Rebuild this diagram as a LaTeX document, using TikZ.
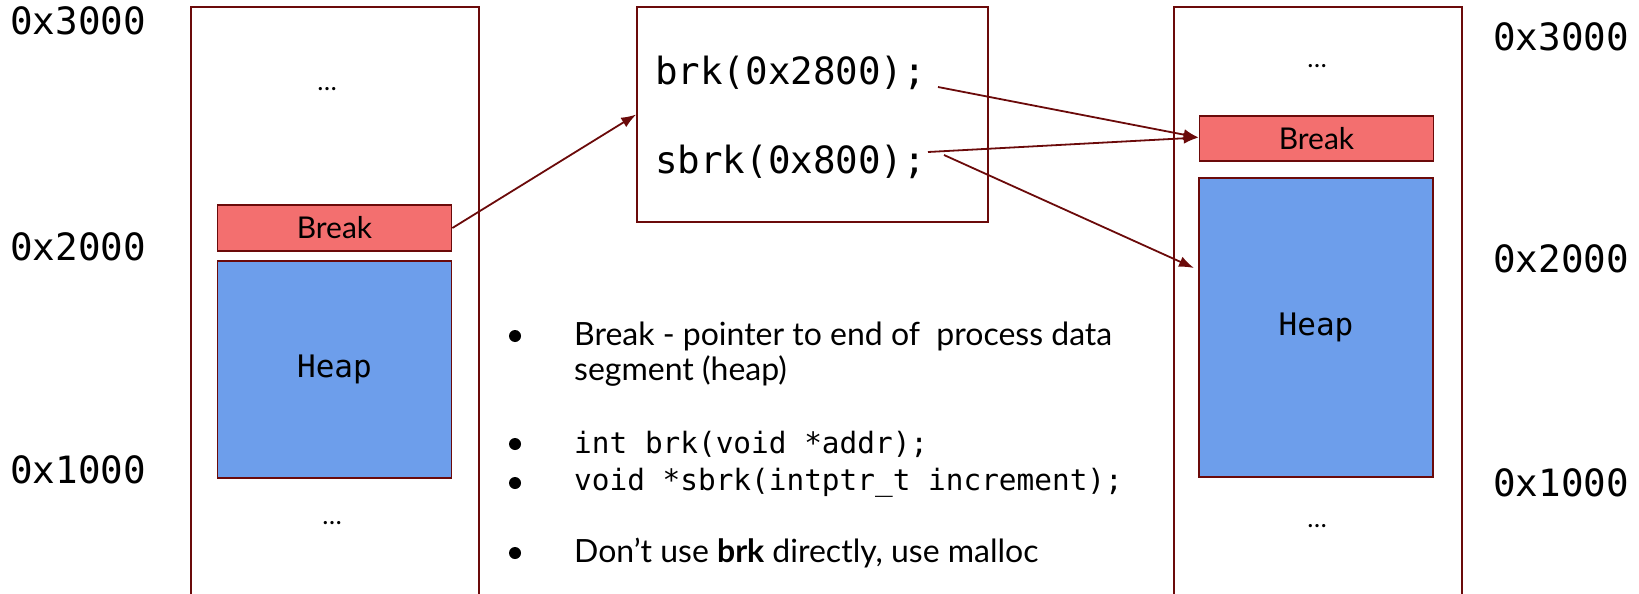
\documentclass[tikz,border=0pt]{standalone}
\usepackage{fontspec}
\setmainfont{Lato}
\setmonofont{DejaVu Sans Mono}
\usetikzlibrary{arrows.meta}
\definecolor{edgered}{HTML}{6B0A0A}
\definecolor{breakred}{HTML}{F36F6F}
\definecolor{heapblue}{HTML}{6D9EEB}
\tikzset{
  membox/.style={draw=edgered, line width=1.6pt, minimum width=288pt, minimum height=640pt, inner sep=0pt},
  brkbox/.style={draw=edgered, fill=breakred, line width=1.8pt, minimum width=234pt, inner sep=0pt, font=\fontsize{30}{36}\selectfont},
  heapbox/.style={draw=edgered, fill=heapblue, line width=1.8pt, minimum width=234pt, inner sep=0pt, font=\ttfamily\fontsize{31}{36}\selectfont},
  codebox/.style={draw=edgered, line width=1.6pt, minimum width=351pt, minimum height=215pt, inner sep=0pt},
  addr/.style={inner sep=0pt, font=\ttfamily\fontsize{37.6}{42}\selectfont},
  call/.style={anchor=west, inner sep=0pt, font=\ttfamily\fontsize{37.5}{42}\selectfont},
  dots/.style={inner sep=0pt, font=\fontsize{26}{30}\selectfont},
  dot/.style={circle, fill=black, minimum size=12pt, inner sep=0pt},
  note/.style={anchor=west, inner sep=0pt, font=\fontsize{32}{38}\selectfont},
  notecode/.style={anchor=west, inner sep=0pt, font=\ttfamily\fontsize{29.4}{34}\selectfont},
  ptr/.style={draw=edgered, line width=1.8pt, -{Latex[length=15pt,width=11pt]}}
}
\begin{document}
\begin{tikzpicture}[x=1pt,y=-1pt]
\useasboundingbox (0,0) rectangle (1639,594);
\clip (0,0) rectangle (1639,594);
% memory before
\node[membox] (memL) at (335,327) {};
\node[dots] (dotsLtop) at (327,89) {…};
\node[brkbox, minimum height=46pt] (brkL) at (334.5,228) {Break};
\node[heapbox, minimum height=217pt] (heapL) at (334.5,369.5) {Heap};
\node[dots] (dotsLbot) at (332,523) {…};
\node[addr, anchor=west] (aL3) at (10,21) {0x3000};
\node[addr, anchor=west] (aL2) at (10,247) {0x2000};
\node[addr, anchor=west] (aL1) at (10,470) {0x1000};
% calls
\node[codebox] (code) at (812.5,114.5) {};
\node[call] (brk) at (655,73) {brk(0x2800);};
\node[call] (sbrk) at (655,162) {sbrk(0x800);};
% memory after
\node[membox] (memR) at (1318,327) {};
\node[dots] (dotsRtop) at (1317,66) {…};
\node[brkbox, minimum height=45pt] (brkR) at (1316.5,138.5) {Break};
\node[heapbox, minimum height=299pt] (heapR) at (1316,327.5) {Heap};
\node[dots] (dotsRbot) at (1317,526) {…};
\node[addr, anchor=west] (aR3) at (1493,37) {0x3000};
\node[addr, anchor=west] (aR2) at (1493,259) {0x2000};
\node[addr, anchor=west] (aR1) at (1493,483) {0x1000};
% pointers
\coordinate (brkend) at (938,87);
\coordinate (sbrkend) at (928,152);
\coordinate (sbrkend2) at (944,155);
\coordinate (heaptop) at (1194,268);
\draw[ptr] (brkL.east) -- (code.west);
\draw[ptr] (brkend) -- ([yshift=1pt]brkR.west);
\draw[ptr] (sbrkend) -- ([yshift=1pt]brkR.west);
\draw[ptr] (sbrkend2) -- (heaptop);
% notes
\node[dot] (b1) at (515,336) {};
\node[note] (n1) at (574,336) {Break - pointer to end of\ \ process data};
\node[note] (n1b) at (574,371) {segment (heap)};
\node[dot] (b2) at (515,444) {};
\node[notecode] (n2) at (574,444) {int brk(void *addr);};
\node[dot] (b3) at (515,483) {};
\node[notecode] (n3) at (574,483) {void *sbrk(intptr\_t increment);};
\node[dot] (b4) at (515,553) {};
\node[note] (n4) at (574,553) {Don\symbol{39}t use \textbf{brk} directly, use malloc};
\end{tikzpicture}
\end{document}
